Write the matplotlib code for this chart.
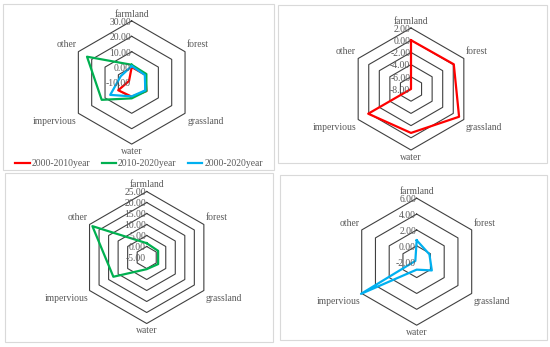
import numpy as np
import matplotlib.pyplot as plt
from matplotlib.patches import Rectangle
from matplotlib.lines import Line2D

plt.rcParams["font.family"] = ["Liberation Serif", "DejaVu Serif"]

categories = ["farmland", "forest", "grassland", "water", "impervious", "other"]
series_names = ["2000-2010year", "2010-2020year", "2000-2020year"]
# values
s_2000_2010 = [0.0, 0.1, 1.1, -0.8, 0.1, -8.0]
s_2010_2020 = [1.5, 1.0, 1.0, 0.3, 12.5, 23.5]
s_2000_2020 = [0.7, -0.15, 0.2, -1.0, 6.1, -1.8]
ticks_all = [-10, 0, 10, 20, 30]
ticks_2000_2010 = [-8, -6, -4, -2, 0, 2]
ticks_2010_2020 = [-5, 0, 5, 10, 15, 20, 25]
ticks_2000_2020 = [-2, 0, 2, 4, 6]

colors = ["#ff0000", "#00b050", "#00b0f0"]
W, H = 550, 347
TXT = "#595959"
GRID = "#404040"
FS = 6.9

# label placement (ha, va, offset in points)
label_pos = [
    ("center", "bottom", (0, 1.5)),
    ("left", "center", (1.5, 5)),
    ("left", "center", (1.5, -6)),
    ("center", "top", (0, -2)),
    ("right", "center", (-1, -6)),
    ("right", "center", (-1.5, 5)),
]


def add_radar(fig, cx, cy, rad, ticks, series):
    ax = fig.add_axes([(cx - rad) / W, 1 - (cy + rad) / H, 2 * rad / W, 2 * rad / H],
                      projection="polar")
    ax.set_theta_offset(np.pi / 2)
    ax.set_theta_direction(-1)
    ax.set_ylim(ticks[0], ticks[-1])
    ax.axis("off")

    angles = np.linspace(0, 2 * np.pi, len(categories), endpoint=False)
    closed = np.append(angles, angles[0])
    for t in ticks[1:]:
        ax.plot(closed, [t] * len(closed), color=GRID, lw=0.8, clip_on=False, zorder=1)
    for vals, color in series:
        ax.plot(closed, np.append(vals, vals[0]), color=color, lw=1.6,
                clip_on=False, zorder=3)

    for t in ticks:
        ax.annotate(f"{t:.2f}", (0, t), xytext=(-0.5, -1), textcoords="offset points",
                    ha="right", va="center", fontsize=FS, color=TXT, zorder=4,
                    annotation_clip=False)

    for ang, name, (ha, va, off) in zip(angles, categories, label_pos):
        ax.annotate(name, (ang, ticks[-1]), xytext=off, textcoords="offset points",
                    ha=ha, va=va, fontsize=FS, color=TXT, annotation_clip=False)
    return ax


def main():
    fig = plt.figure(figsize=(W / 100, H / 100), dpi=100)
    fig.patch.set_facecolor("white")

    # panel frames
    for x0, y0, x1, y1 in [(3, 4, 274, 170), (278, 5, 547, 163),
                           (5, 173, 273, 342), (280, 175, 547, 340)]:
        fig.add_artist(Rectangle((x0 / W, 1 - y1 / H), (x1 - x0) / W, (y1 - y0) / H,
                                 transform=fig.transFigure, fill=False,
                                 edgecolor="#d9d9d9", lw=0.8))

    add_radar(fig, 131.7, 82.5, 61.6, ticks_all,
              [(s_2000_2010, colors[0]), (s_2010_2020, colors[1]), (s_2000_2020, colors[2])])
    add_radar(fig, 411, 89, 61, ticks_2000_2010, [(s_2000_2010, colors[0])])
    add_radar(fig, 146.7, 257.5, 66, ticks_2010_2020, [(s_2010_2020, colors[1])])
    add_radar(fig, 416.7, 261.7, 63.5, ticks_2000_2020, [(s_2000_2020, colors[2])])

    handles = [Line2D([], [], color=c, lw=1.6) for c in colors]
    fig.legend(handles, series_names, loc="center", bbox_to_anchor=(139 / W, 1 - 163.5 / H),
               ncol=3, frameon=False, fontsize=6.9, handlelength=1.5, handletextpad=0.2,
               columnspacing=1.2, labelcolor=TXT)

    fig.savefig("out.png", dpi=100, facecolor="white")


if __name__ == "__main__":
    main()
